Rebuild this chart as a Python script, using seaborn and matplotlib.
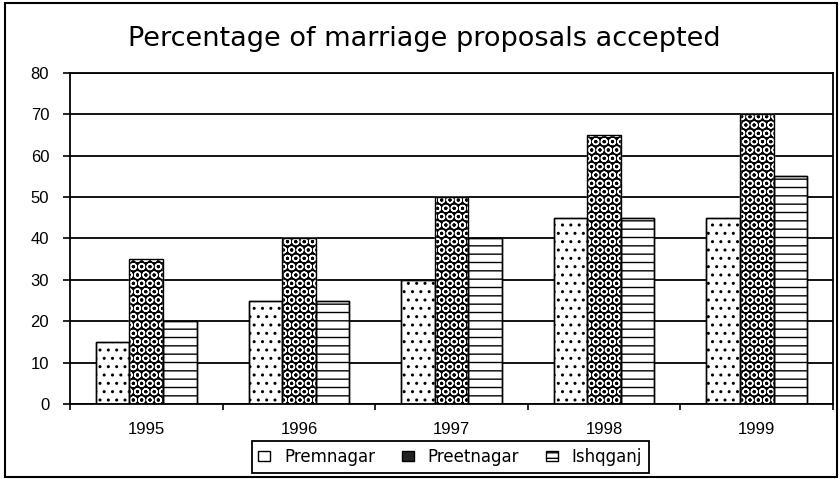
import matplotlib
matplotlib.use('Agg')
import matplotlib.pyplot as plt
from matplotlib.patches import Patch, Rectangle
import seaborn as sns
import pandas as pd

years = ['1995', '1996', '1997', '1998', '1999']
towns = ['Premnagar', 'Preetnagar', 'Ishqganj']
premnagar = [15, 25, 30, 45, 45]
preetnagar = [35, 40, 50, 65, 70]
ishqganj = [20, 25, 40, 45, 55]

df = pd.DataFrame({
    'year': years * 3,
    'town': [t for t in towns for _ in years],
    'value': premnagar + preetnagar + ishqganj,
})

sns.set_style('white', {'text.color': 'black', 'xtick.color': 'black',
                        'ytick.color': 'black', 'axes.labelcolor': 'black'})
plt.rcParams['font.family'] = ['Liberation Sans', 'DejaVu Sans']
plt.rcParams['hatch.linewidth'] = 1.0

fig = plt.figure(figsize=(8.4, 4.79), dpi=100)
ax = fig.add_axes([0.0833, 0.1566, 0.9084, 0.691])

sns.barplot(data=df, x='year', y='value', hue='town', order=years,
            hue_order=towns, width=0.66, gap=0, ax=ax, legend=False)

# fill styles for each town
styles = {
    'Premnagar': dict(facecolor='white', edgecolor='black', hatch='..'),
    'Preetnagar': dict(facecolor='black', edgecolor='white', hatch='OO'),
    'Ishqganj': dict(facecolor='white', edgecolor='black', hatch='--'),
}
for town, cont in zip(towns, ax.containers):
    st = styles[town]
    for bar in cont:
        bar.set_facecolor(st['facecolor'])
        bar.set_edgecolor(st['edgecolor'])
        bar.set_hatch(st['hatch'])
        bar.set_linewidth(1.0)
        # black outline on top
        ax.add_patch(Rectangle(bar.get_xy(), bar.get_width(), bar.get_height(),
                               fill=False, edgecolor='black', lw=1.0, zorder=3))

ax.set_ylim(0, 80)
ax.set_yticks(range(0, 81, 10))
ax.set_xlim(-0.5, 4.5)
ax.set_xlabel('')
ax.set_ylabel('')
ax.set_axisbelow(True)
ax.yaxis.grid(True, color='black', lw=1.3)
for sp in ax.spines.values():
    sp.set_color('black')
    sp.set_linewidth(1.3)

ax.tick_params(axis='y', direction='out', length=5, width=1.2, pad=10,
               labelsize=12, left=True, color='black')
ax.tick_params(axis='x', which='major', length=0, pad=13, labelsize=12)
ax.set_xticks([i - 0.5 for i in range(6)], minor=True)
ax.tick_params(axis='x', which='minor', direction='out', length=4, width=1.2,
               bottom=True, color='black')

fig.text(0.505, 0.918, 'Percentage of marriage proposals accepted',
         ha='center', va='center', fontsize=19.5, family='DejaVu Sans',
         color='black')

handles = [Patch(facecolor='white', edgecolor='black'),
           Patch(facecolor='#222222', edgecolor='black'),
           Patch(facecolor='white', edgecolor='black', hatch='---')]
leg = fig.legend(handles, towns, loc='center', bbox_to_anchor=(0.536, 0.046),
                 ncol=3, frameon=True, fancybox=False, framealpha=1,
                 prop={'family': 'DejaVu Sans', 'size': 12},
                 handlelength=0.7, handleheight=0.5, handletextpad=0.85,
                 columnspacing=1.6, borderpad=0.4, borderaxespad=0,
                 edgecolor='black')
leg.get_frame().set_linewidth(1.3)

fig.add_artist(Rectangle((0.006, 0.004), 0.99, 0.99, transform=fig.transFigure,
                         fill=False, edgecolor='black', lw=1.5))

fig.savefig('out.png', dpi=100)
